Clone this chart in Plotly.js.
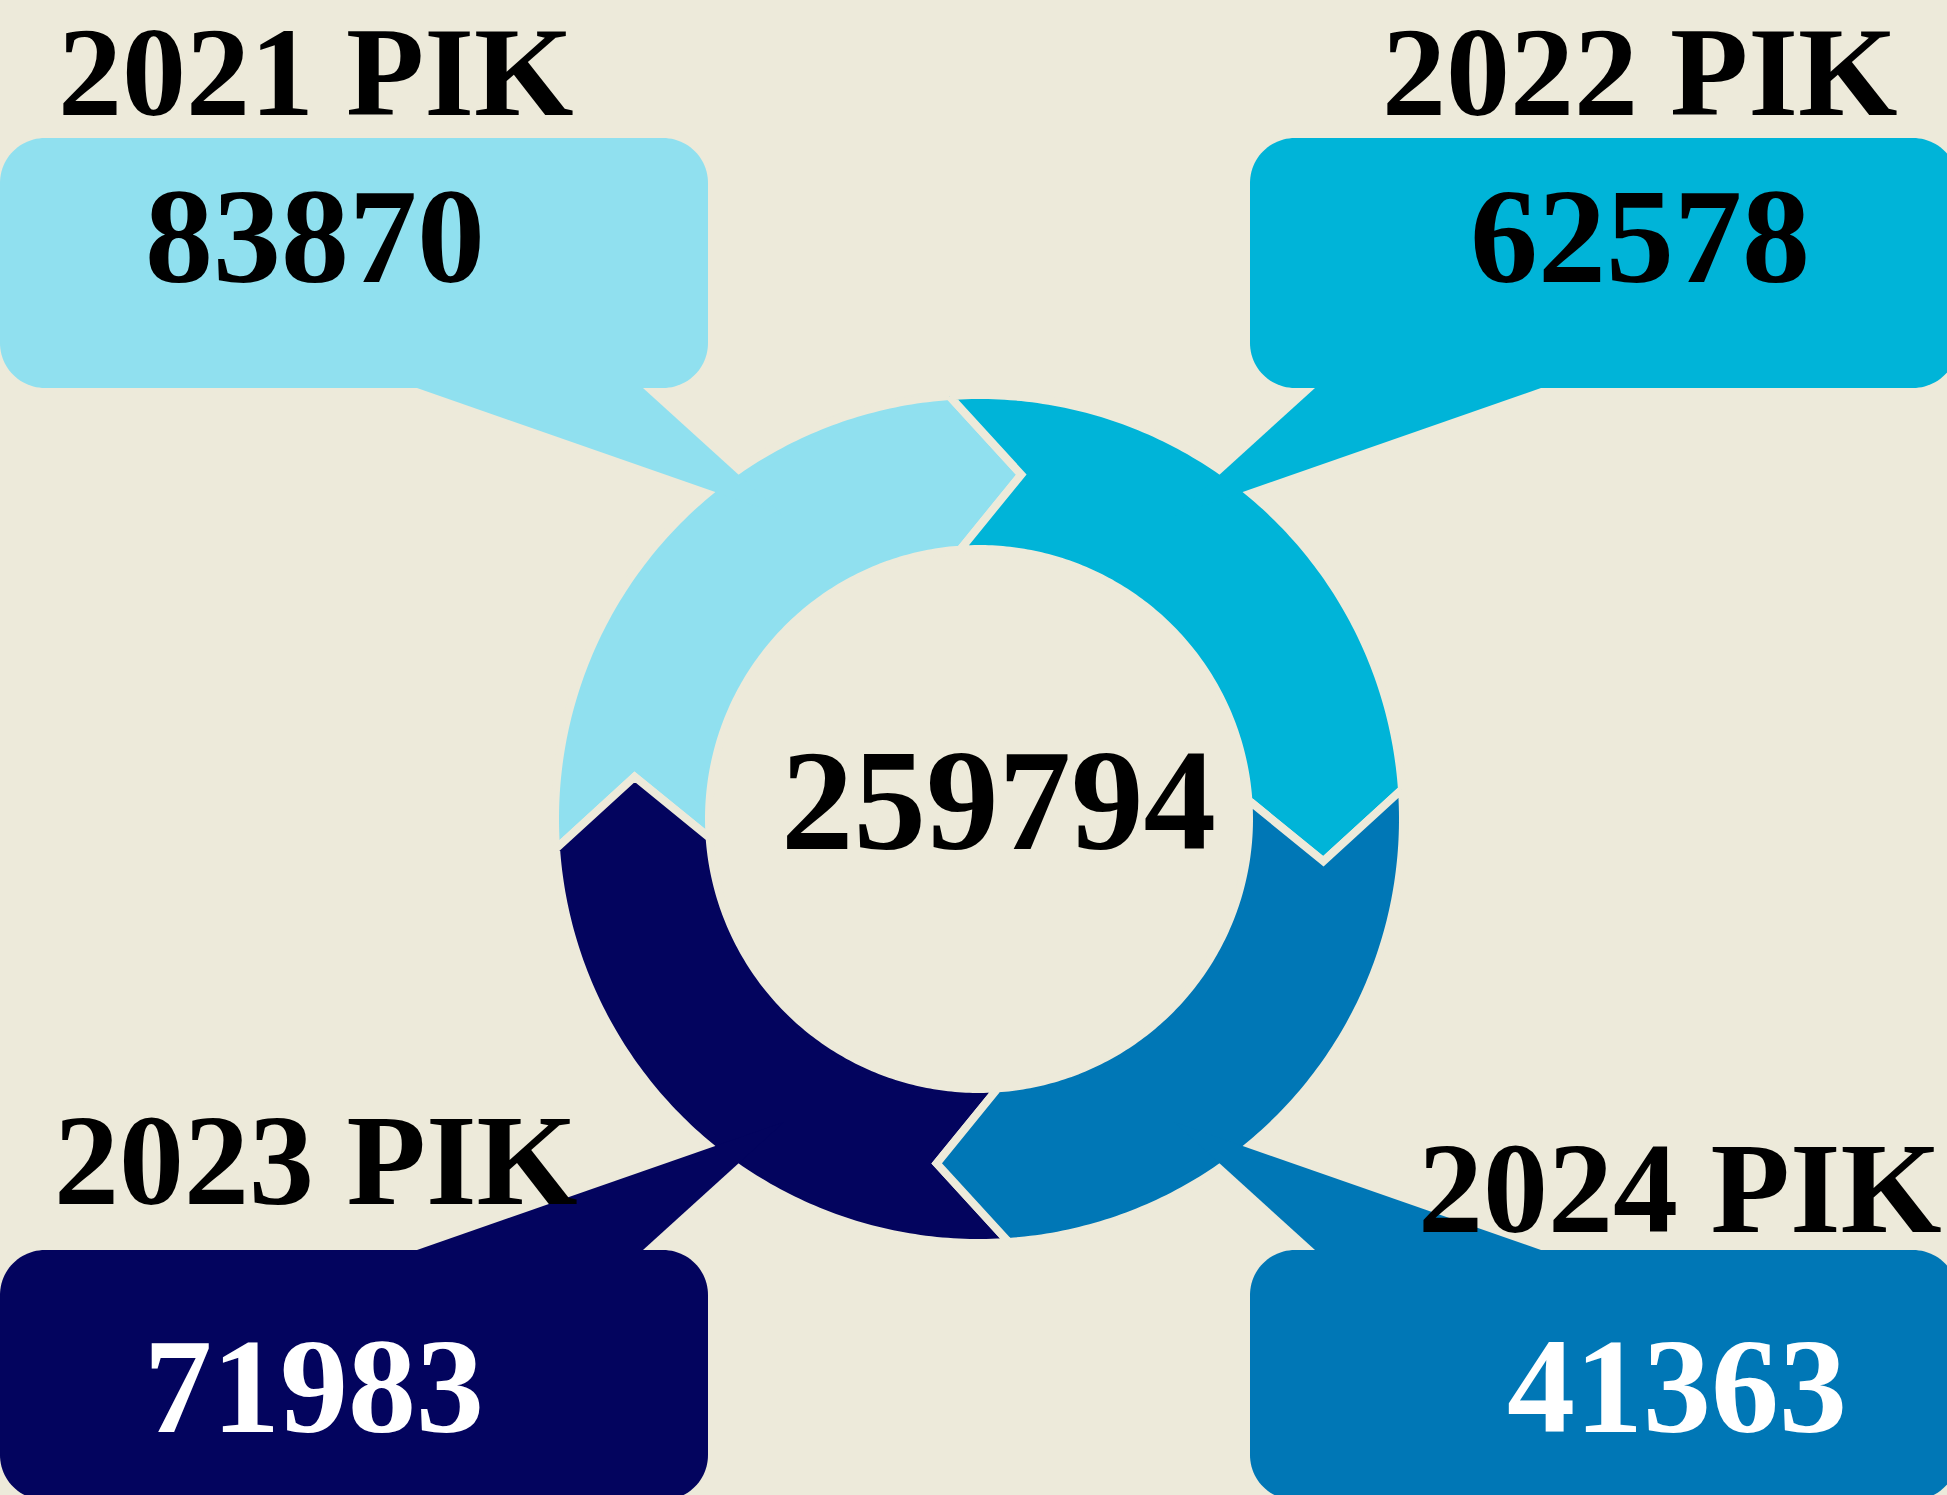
<!DOCTYPE html>
<html>
<head>
<meta charset="utf-8">
<script src="https://cdn.plot.ly/plotly-3.0.1.min.js"></script>
<style>html,body{margin:0;padding:0;background:#EDEADA;}</style>
</head>
<body>
<div id="chart" style="width:1947px;height:1495px;"></div>
<script>
// ---- data ----
const years = ['2021', '2022', '2023', '2024'];
const values = [83870, 62578, 71983, 41363];
const unit = 'PIK';
const total = values.reduce((a, b) => a + b, 0);   // 259794

// ---- styles / layout (not data) ----
const BG = '#EDEADA';
const colors = ['#90E0EF', '#00B4D8', '#03045E', '#0077B6'];
const numColors = ['#000000', '#000000', '#FFFFFF', '#FFFFFF'];
const quad = [[-1, -1], [1, -1], [-1, 1], [1, 1]];     // quadrant signs
const segStart = [266, 356, 176, 86];                  // bearing where each ring arrow starts
const labelPos = [[316, 72], [1640, 72], [316, 1160], [1680, 1188]];
const labelSize = [128, 128, 130, 130];
const numberPos = [[315, 236], [1640, 236], [314, 1386], [1677, 1386]];
const totalPos = [998, 800];

const W = 1947, H = 1495;
const cx = 979, cy = 819, RO = 420, RI = 274, GAP = 8, TIP = 11;
const RM = (RO + RI) / 2;
const FONT = 'Liberation Serif, Times New Roman, serif';

function pt(b, r) {
  const a = b * Math.PI / 180;
  return [cx + r * Math.sin(a), cy - r * Math.cos(a)];
}

const traces = [];

// ring arrows
years.forEach((y, k) => {
  const s = segStart[k], N = 120;
  const xs = [], ys = [];
  for (let i = 0; i <= N; i++) { const p = pt(s + 90 * i / N, RO + GAP / 2); xs.push(p[0]); ys.push(p[1]); }
  let p = pt(s + 90 + TIP, RM); xs.push(p[0]); ys.push(p[1]);
  for (let i = N; i >= 0; i--) { const q = pt(s + 90 * i / N, RI - GAP / 2); xs.push(q[0]); ys.push(q[1]); }
  p = pt(s + TIP, RM); xs.push(p[0]); ys.push(p[1]);
  xs.push(xs[0]); ys.push(ys[0]);
  traces.push({
    type: 'scatter', mode: 'lines', x: xs, y: ys, fill: 'toself',
    fillcolor: colors[k], line: { color: BG, width: GAP, shape: 'linear', simplify: false },
    hoverinfo: 'skip', name: y
  });
});

// tails
years.forEach((y, k) => {
  const [sx, sy] = quad[k];
  const xs = [cx + sx * 562, cx + sx * 336, cx + sx * 195, cx + sx * 562];
  const ys = [cy + sy * 431, cy + sy * 431, cy + sy * 303, cy + sy * 431];
  traces.push({
    type: 'scatter', mode: 'lines', x: xs, y: ys, fill: 'toself',
    fillcolor: colors[k], line: { color: colors[k], width: 0, simplify: false }, hoverinfo: 'skip'
  });
});

// rounded boxes
function roundRect(x0, x1, y0, y1, r) {
  const xa = Math.min(x0, x1), xb = Math.max(x0, x1), ya = Math.min(y0, y1), yb = Math.max(y0, y1);
  const xs = [], ys = [];
  const corners = [[xb - r, ya + r, -90], [xb - r, yb - r, 0], [xa + r, yb - r, 90], [xa + r, ya + r, 180]];
  corners.forEach(([ccx, ccy, a0]) => {
    for (let i = 0; i <= 24; i++) {
      const a = (a0 + 90 * i / 24) * Math.PI / 180;
      xs.push(ccx + r * Math.cos(a)); ys.push(ccy + r * Math.sin(a));
    }
  });
  xs.push(xs[0]); ys.push(ys[0]);
  return [xs, ys];
}
years.forEach((y, k) => {
  const [sx, sy] = quad[k];
  const [xs, ys] = roundRect(cx + sx * 979, cx + sx * 271, cy + sy * 431, cy + sy * 681, 45);
  traces.push({
    type: 'scatter', mode: 'lines', x: xs, y: ys, fill: 'toself',
    fillcolor: colors[k], line: { color: colors[k], width: 0, simplify: false }, hoverinfo: 'skip'
  });
});

// texts
const annotations = [];
years.forEach((y, k) => {
  annotations.push({
    x: labelPos[k][0], y: labelPos[k][1], xref: 'x', yref: 'y', showarrow: false,
    xanchor: 'center', yanchor: 'middle', text: '<b>' + y + ' ' + unit + '</b>',
    font: { family: FONT, size: labelSize[k], color: '#000000' }
  });
  annotations.push({
    x: numberPos[k][0], y: numberPos[k][1], xref: 'x', yref: 'y', showarrow: false,
    xanchor: 'center', yanchor: 'middle', text: '<b>' + values[k] + '</b>',
    font: { family: FONT, size: 136, color: numColors[k] }
  });
});
annotations.push({
  x: totalPos[0], y: totalPos[1], xref: 'x', yref: 'y', showarrow: false,
  xanchor: 'center', yanchor: 'middle', text: '<b>' + total + '</b>',
  font: { family: FONT, size: 145, color: '#000000' }
});

const layout = {
  width: W, height: H,
  margin: { l: 0, r: 0, t: 0, b: 0, pad: 0 },
  paper_bgcolor: BG, plot_bgcolor: BG,
  showlegend: false,
  xaxis: { range: [0, W], visible: false, fixedrange: true },
  yaxis: { range: [H, 0], visible: false, fixedrange: true },
  annotations: annotations
};

Plotly.newPlot('chart', traces, layout, { displayModeBar: false, staticPlot: true });
</script>
</body>
</html>
